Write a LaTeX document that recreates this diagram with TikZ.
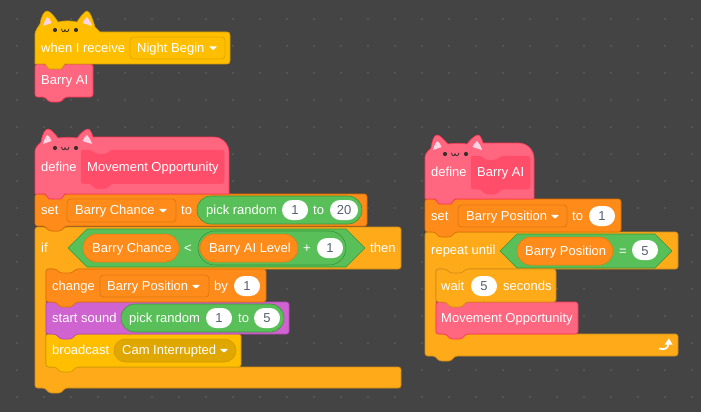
\documentclass[tikz,border=0pt]{standalone}
\usepackage{fontspec}
\setmainfont{Liberation Sans}
\definecolor{bgc}{HTML}{444444}
\definecolor{dotc}{HTML}{545454}
\definecolor{yelF}{HTML}{FFBF00}\definecolor{yelB}{HTML}{CC9900}\definecolor{yelD}{HTML}{E0A800}\definecolor{yelP}{HTML}{DFA700}
\definecolor{pnkF}{HTML}{FF6680}\definecolor{pnkB}{HTML}{FF3355}\definecolor{pnkD}{HTML}{FF4D6A}
\definecolor{orgF}{HTML}{FF8C1A}\definecolor{orgB}{HTML}{DB6E00}\definecolor{orgD}{HTML}{DF7610}
\definecolor{ctlF}{HTML}{FFAB19}\definecolor{ctlB}{HTML}{CF8B17}
\definecolor{grnF}{HTML}{59C059}\definecolor{grnB}{HTML}{389438}
\definecolor{purF}{HTML}{CF63CF}\definecolor{purB}{HTML}{BD42BD}
\definecolor{numc}{HTML}{575E75}\definecolor{earc}{HTML}{FFD5E6}\definecolor{facec}{HTML}{3A2F2A}
\tikzset{
  x=1pt,y=-1pt,
  yelblk/.style={fill=yelF,draw=yelB,line width=.6pt},
  pnkblk/.style={fill=pnkF,draw=pnkB,line width=.6pt},
  pnkin/.style={fill=pnkD,draw=pnkD,line width=.5pt},
  orgblk/.style={fill=orgF,draw=orgB,line width=.6pt},
  ctlblk/.style={fill=ctlF,draw=ctlB,line width=.6pt},
  purblk/.style={fill=purF,draw=purB,line width=.6pt},
  grnpill/.style={fill=grnF,draw=grnB,line width=.6pt},
  orgpill/.style={fill=orgF,draw=orgB!70!orgF,line width=.5pt},
  whtpill/.style={fill=white,draw=none},
  ddyel/.style={fill=yelF,draw=yelD,line width=.8pt},
  ddorg/.style={fill=orgF,draw=orgD,line width=.8pt},
  ddpill/.style={fill=yelP,draw=yelP!90!black,line width=.5pt},
  lbl/.style={text=white,anchor=base west,inner sep=0pt,font=\fontsize{13}{15}\selectfont},
  num/.style={text=numc,anchor=base,inner sep=0pt,font=\fontsize{13}{15}\selectfont},
  sym/.style={text=white,anchor=base,inner sep=0pt,font=\fontsize{13}{15}\selectfont},
}
% x0 y0 x1 y1 style
\newcommand{\stk}[5]{\draw[#5,rounded corners=2.5pt] (#1,#2) -- ({#1+10},#2) -- ({#1+14},{#2+4}) -- ({#1+26},{#2+4}) -- ({#1+30},#2) -- (#3,#2) -- (#3,#4) -- ({#1+30},#4) -- ({#1+26},{#4+5}) -- ({#1+14},{#4+5}) -- ({#1+10},#4) -- (#1,#4) -- cycle;}
% x0 y0 x1 y1 xi y2 y3 style
\newcommand{\cblk}[8]{\draw[#8,rounded corners=2.5pt] (#1,#2) -- ({#1+10},#2) -- ({#1+14},{#2+4}) -- ({#1+26},{#2+4}) -- ({#1+30},#2) -- (#3,#2) -- (#3,#4) -- ({#5+30},#4) -- ({#5+26},{#4+5}) -- ({#5+14},{#4+5}) -- ({#5+10},#4) -- (#5,#4) -- (#5,#6) -- (#3,#6) -- (#3,#7) -- ({#1+30},#7) -- ({#1+26},{#7+5}) -- ({#1+14},{#7+5}) -- ({#1+10},#7) -- (#1,#7) -- cycle;}
\newcommand{\pill}[5]{\pgfmathsetmacro{\rr}{(#4-#2)/2-0.02}\draw[#5,rounded corners=\rr pt] (#1,#2) rectangle (#3,#4);}
\newcommand{\drop}[5]{\draw[#5,rounded corners=3.5pt] (#1,#2) rectangle (#3,#4);}
% left tip, right tip, y0, y1, style
\newcommand{\hexa}[5]{\pgfmathsetmacro{\hh}{(#4-#3)/2}\draw[#5,line join=round] (#1,{#3+\hh}) -- ({#1+\hh},#3) -- ({#2-\hh},#3) -- (#2,{#3+\hh}) -- ({#2-\hh},#4) -- ({#1+\hh},#4) -- cycle;}
\newcommand{\caret}[2]{\fill[white,rounded corners=.5pt] ({#1-4},{#2-1.6}) -- ({#1+4},{#2-1.6}) -- (#1,{#2+2.2}) -- cycle;}
% x0 = left edge, yt = y of ear tips
\newcommand{\catface}[2]{
  \fill[earc] ({#1+8},{#2+15}) .. controls ({#1+9},{#2+11}) and ({#1+11},{#2+7}) .. ({#1+12.5},{#2+6}) .. controls ({#1+14},{#2+7}) and ({#1+15.5},{#2+9}) .. ({#1+16.5},{#2+12}) -- cycle;
  \fill[earc] ({#1+47.5},{#2+12}) .. controls ({#1+49},{#2+9}) and ({#1+50.5},{#2+7}) .. ({#1+52},{#2+6}) .. controls ({#1+54},{#2+8}) and ({#1+56},{#2+11}) .. ({#1+57},{#2+15}) -- cycle;
  \fill[facec] ({#1+20},{#2+19}) circle (2.1);
  \fill[facec] ({#1+41},{#2+19}) circle (2.1);
  \draw[facec,line width=.8pt,line cap=round] ({#1+26.5},{#2+18}) .. controls ({#1+27},{#2+21.5}) and ({#1+29.5},{#2+21.5}) .. ({#1+30},{#2+18.8}) .. controls ({#1+30.5},{#2+21.5}) and ({#1+33.5},{#2+21.5}) .. ({#1+34},{#2+18});
}
\begin{document}
\begin{tikzpicture}
\useasboundingbox (0,0) rectangle (701,412);
\fill[bgc] (0,0) rectangle (701,412);
\foreach \i in {0,...,25}{\foreach \j in {0,...,14}{\fill[dotc] ({16+27*\i},{18+27*\j}) rectangle ({18+27*\i},{20+27*\j});}}

% ---- stack 1
\stk{35}{64}{93}{97}{pnkblk}
\draw[yelblk] (35,64) -- (35,34) .. controls (35,32) and (37,28) .. (40,24) .. controls (41,17) and (44,11) .. (47,11) .. controls (50,11) and (55,17) .. (58,22) .. controls (63,20.5) and (72,20.5) .. (77,22) .. controls (80,17) and (85,11) .. (87,11) .. controls (90,11) and (93,20) .. (95,27) -- (100,32) -- (227,32) .. controls (229,32) and (230,33) .. (230,35) -- (230,61) .. controls (230,63) and (229,64) .. (227,64) -- (65,64) -- (61,69) -- (49,69) -- (45,64) -- cycle;
\catface{35}{11}
\drop{130}{37}{225}{59}{ddyel}
\node[lbl] (t1) at (41,52.5) {when I receive};
\node[lbl] (t2) at (137,52.5) {Night Begin};
\caret{213}{48}
\node[lbl] (t3) at (41,84.5) {Barry AI};

% ---- stack 2
\cblk{35}{227}{401}{269}{46}{367}{388}{ctlblk}
\stk{35}{194}{367}{226}{orgblk}
\draw[pnkblk] (35,194) -- (35,151) .. controls (35,148) and (38,145) .. (41,142) .. controls (42,135) and (45,129) .. (48,129) .. controls (51,129) and (55,134) .. (58,138) .. controls (64,137) and (72,137) .. (77,138) .. controls (80,134) and (85,129) .. (88,129) .. controls (90,129) and (92,133) .. (93,137) -- (214,137) .. controls (222,137) and (229,144) .. (229,152) -- (229,194) -- (65,194) -- (61,199) -- (49,199) -- (45,194) -- cycle;
\catface{35}{129}
\stk{81}{150}{224}{183.5}{pnkin}
\node[lbl] (d1) at (41,171.5) {define};
\node[lbl] (d2) at (87,171.5) {Movement Opportunity};

\drop{67}{199}{176}{222}{ddorg}
\node[lbl] (s1) at (41,214.5) {set};
\node[lbl] (s2) at (75,214.5) {Barry Chance};
\caret{163}{210.5}
\node[lbl] (s3) at (181,214.5) {to};
\pill{197}{196}{362}{224}{grnpill}
\node[lbl] (s4) at (206,214.5) {pick random};
\pill{282}{200}{308}{220}{whtpill}
\node[num] (s5) at (295,214.5) {1};
\node[lbl] (s6) at (313,214.5) {to};
\pill{330}{200}{358}{220}{whtpill}
\node[num] (s7) at (344,214.5) {20};

\hexa{68}{365}{229}{267}{fill=grnF,draw=grnB,line width=.6pt}
\node[lbl] (i1) at (41,252.5) {if};
\pill{83}{234}{179}{262}{orgpill}
\node[lbl] (i2) at (92,252.5) {Barry Chance};
\node[sym] (i3) at (188,252.5) {<};
\pill{198}{231}{346}{265}{grnpill}
\pill{200}{234}{298}{262}{orgpill}
\node[lbl] (i4) at (209,252.5) {Barry AI Level};
\node[sym] (i5) at (307,252.5) {+};
\pill{317}{238}{343}{258}{whtpill}
\node[num] (i6) at (330,252.5) {1};
\node[lbl] (i7) at (370,252.5) {then};

\stk{46}{334}{241}{367}{yelblk}
\stk{46}{302}{289}{334}{purblk}
\stk{46}{269}{266}{302}{orgblk}
\drop{100}{275}{209}{297}{ddorg}
\node[lbl] (c1) at (52,290.5) {change};
\node[lbl] (c2) at (107,290.5) {Barry Position};
\caret{196}{286.5}
\node[lbl] (c3) at (214,290.5) {by};
\pill{234}{276}{260}{296}{whtpill}
\node[num] (c4) at (247,290.5) {1};

\node[lbl] (p1) at (52,322.5) {start sound};
\pill{121}{304}{284}{332}{grnpill}
\node[lbl] (p2) at (129,322.5) {pick random};
\pill{206}{308}{232}{328}{whtpill}
\node[num] (p3) at (219,322.5) {1};
\node[lbl] (p4) at (238,322.5) {to};
\pill{254}{308}{280}{328}{whtpill}
\node[num] (p5) at (267,322.5) {5};

\pill{114}{339}{236}{362}{ddpill}
\node[lbl] (b1) at (52,354.5) {broadcast};
\node[lbl] (b2) at (122,354.5) {Cam Interrupted};
\caret{224}{350.5}

% ---- stack 3
\cblk{425}{232}{678}{269}{436}{334}{356}{ctlblk}
\stk{425}{199}{621}{232}{orgblk}
\draw[pnkblk] (425,199) -- (425,157) .. controls (425,154) and (428,151) .. (431,148) .. controls (432,141) and (434,135) .. (437,135) .. controls (440,135) and (444,140) .. (448,144) .. controls (454,143) and (462,143) .. (467,144) .. controls (470,140) and (475,135) .. (478,135) .. controls (480,135) and (482,139) .. (483,143) -- (519,143) .. controls (527,143) and (534,150) .. (534,158) -- (534,199) -- (455,199) -- (451,204) -- (439,204) -- (435,199) -- cycle;
\catface{425}{135}
\stk{471}{156}{530}{189}{pnkin}
\node[lbl] (e1) at (431,176.5) {define};
\node[lbl] (e2) at (477,176.5) {Barry AI};

\drop{458}{205}{567}{227}{ddorg}
\node[lbl] (q1) at (431,220.5) {set};
\node[lbl] (q2) at (466,220.5) {Barry Position};
\caret{555}{216.5}
\node[lbl] (q3) at (572,220.5) {to};
\pill{589}{206}{615}{226}{whtpill}
\node[num] (q4) at (602,220.5) {1};

\node[lbl] (r1) at (431,254.5) {repeat until};
\hexa{500}{672}{234}{268}{fill=grnF,draw=grnB,line width=.6pt}
\pill{517}{237}{613}{265}{orgpill}
\node[lbl] (r2) at (525,255) {Barry Position};
\node[sym] (r3) at (623,255) {=};
\pill{632}{240}{658}{260}{whtpill}
\node[num] (r4) at (645,255) {5};

\stk{436}{302}{578}{334}{pnkblk}
\stk{436}{269}{556}{302}{ctlblk}
\node[lbl] (w1) at (441,290.5) {wait};
\pill{471}{276}{497}{296}{whtpill}
\node[num] (w2) at (484,290.5) {5};
\node[lbl] (w3) at (503,290.5) {seconds};
\node[lbl] (m1) at (441,322.5) {Movement Opportunity};

\draw[white,line width=1.8pt] (659,348.5) .. controls (664,350) and (668.5,349) .. (668.5,343);
\fill[white] (664.5,344.5) -- (669,338.5) -- (672.5,344.5) -- cycle;
\end{tikzpicture}
\end{document}
